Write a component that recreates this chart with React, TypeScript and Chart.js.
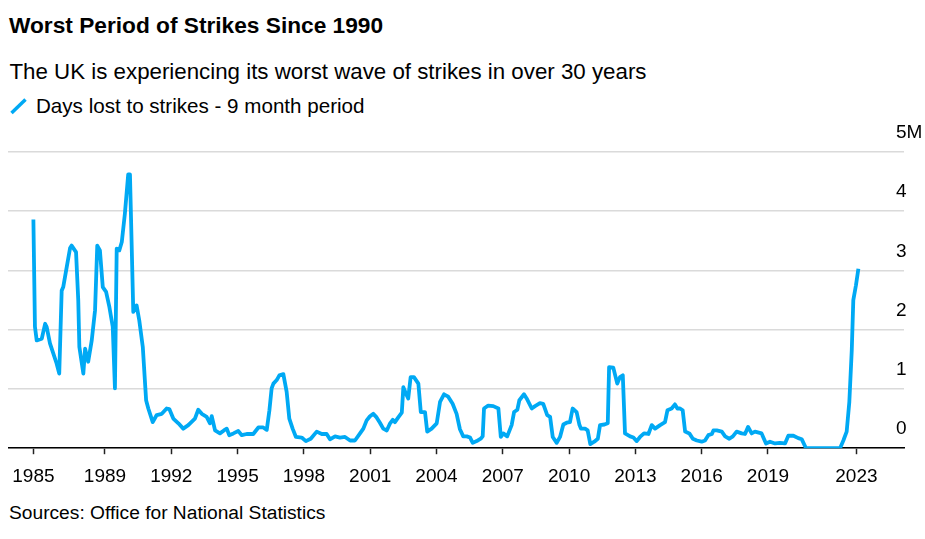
import React, { useEffect, useRef } from "react";
import { Chart, registerables } from "chart.js";

Chart.register(...registerables);

// Decimal-year positions of readings (9-month rolling total), and values in millions of days
const dates = [
  1985.76, 1985.83, 1985.91, 1986.14, 1986.29, 1986.36, 1986.51, 1986.66, 1986.81, 1986.93,
  1987.04, 1987.11, 1987.27, 1987.42, 1987.49, 1987.69, 1987.79, 1987.84, 1988.02, 1988.10,
  1988.24, 1988.40, 1988.55, 1988.65, 1988.77, 1988.90, 1989.05, 1989.20, 1989.35, 1989.45,
  1989.53, 1989.65, 1989.76, 1989.90, 1990.05, 1990.13, 1990.28, 1990.43, 1990.55, 1990.71,
  1990.86, 1990.96, 1991.16, 1991.34, 1991.57, 1991.79, 1991.91, 1992.09, 1992.32, 1992.54,
  1992.77, 1993.07, 1993.22, 1993.38, 1993.60, 1993.75, 1993.83, 1993.98, 1994.20, 1994.38,
  1994.51, 1994.62, 1994.81, 1995.03, 1995.19, 1995.41, 1995.71, 1995.94, 1996.16, 1996.32,
  1996.44, 1996.54, 1996.62, 1996.77, 1996.89, 1997.07, 1997.22, 1997.34, 1997.49, 1997.64,
  1997.90, 1998.09, 1998.31, 1998.58, 1998.81, 1999.03, 1999.18, 1999.41, 1999.63, 1999.86,
  2000.09, 2000.31, 2000.54, 2000.69, 2000.84, 2000.99, 2001.14, 2001.29, 2001.44, 2001.59,
  2001.75, 2001.90, 2002.02, 2002.12, 2002.27, 2002.43, 2002.50, 2002.62, 2002.72, 2002.83,
  2002.98, 2003.18, 2003.29, 2003.48, 2003.58, 2003.78, 2004.01, 2004.16, 2004.34, 2004.53,
  2004.73, 2004.91, 2005.06, 2005.21, 2005.37, 2005.52, 2005.64, 2005.82, 2006.00, 2006.09,
  2006.15, 2006.34, 2006.57, 2006.80, 2006.91, 2007.02, 2007.20, 2007.40, 2007.51, 2007.66,
  2007.75, 2007.96, 2008.08, 2008.31, 2008.46, 2008.68, 2008.83, 2009.01, 2009.14, 2009.26,
  2009.44, 2009.59, 2009.74, 2009.89, 2010.04, 2010.16, 2010.34, 2010.47, 2010.54, 2010.72,
  2010.84, 2010.96, 2011.14, 2011.30, 2011.40, 2011.60, 2011.75, 2011.81, 2012.00, 2012.18,
  2012.30, 2012.43, 2012.53, 2012.76, 2012.91, 2013.06, 2013.21, 2013.39, 2013.59, 2013.74,
  2013.89, 2014.12, 2014.34, 2014.45, 2014.64, 2014.79, 2014.90, 2015.02, 2015.14, 2015.25,
  2015.44, 2015.60, 2015.78, 2016.00, 2016.15, 2016.30, 2016.46, 2016.53, 2016.68, 2016.91,
  2017.06, 2017.25, 2017.41, 2017.58, 2017.81, 2017.96, 2018.10, 2018.26, 2018.41, 2018.71,
  2018.91, 2019.09, 2019.32, 2019.54, 2019.77, 2019.92, 2020.15, 2020.37, 2020.53, 2020.72,
  2021.05, 2021.66, 2022.26, 2022.41, 2022.56, 2022.68, 2022.79, 2022.86, 2022.98, 2023.09,
];

const daysLost = [
  3.86, 2.05, 1.82, 1.85, 2.10, 2.05, 1.77, 1.60, 1.43, 1.26,
  2.66, 2.72, 3.06, 3.38, 3.42, 3.31, 2.50, 1.71, 1.26, 1.68,
  1.46, 1.82, 2.33, 3.42, 3.34, 2.72, 2.64, 2.38, 2.05, 1.01,
  3.37, 3.34, 3.48, 3.96, 4.62, 4.62, 2.30, 2.41, 2.16, 1.71,
  0.81, 0.67, 0.44, 0.56, 0.58, 0.67, 0.66, 0.50, 0.42, 0.33,
  0.39, 0.50, 0.65, 0.58, 0.53, 0.42, 0.54, 0.30, 0.25, 0.30,
  0.33, 0.22, 0.25, 0.29, 0.22, 0.24, 0.24, 0.35, 0.35, 0.31,
  0.64, 1.01, 1.09, 1.15, 1.23, 1.25, 0.95, 0.50, 0.33, 0.19,
  0.18, 0.12, 0.16, 0.28, 0.24, 0.24, 0.15, 0.20, 0.18, 0.19,
  0.13, 0.13, 0.25, 0.33, 0.47, 0.54, 0.58, 0.52, 0.43, 0.33,
  0.30, 0.42, 0.48, 0.44, 0.52, 0.60, 1.03, 0.92, 0.84, 1.20,
  1.20, 1.09, 0.61, 0.61, 0.28, 0.33, 0.42, 0.78, 0.91, 0.87,
  0.75, 0.58, 0.32, 0.20, 0.20, 0.18, 0.09, 0.12, 0.16, 0.20,
  0.67, 0.72, 0.71, 0.67, 0.19, 0.25, 0.20, 0.39, 0.61, 0.65,
  0.81, 0.91, 0.84, 0.67, 0.71, 0.76, 0.75, 0.56, 0.53, 0.19,
  0.09, 0.19, 0.40, 0.43, 0.44, 0.67, 0.61, 0.39, 0.33, 0.33,
  0.30, 0.07, 0.11, 0.16, 0.39, 0.40, 0.42, 1.37, 1.36, 1.09,
  1.20, 1.23, 0.25, 0.20, 0.18, 0.12, 0.19, 0.25, 0.24, 0.39,
  0.33, 0.39, 0.44, 0.64, 0.67, 0.74, 0.67, 0.67, 0.64, 0.28,
  0.25, 0.16, 0.13, 0.11, 0.13, 0.22, 0.24, 0.30, 0.30, 0.28,
  0.20, 0.16, 0.20, 0.28, 0.25, 0.24, 0.36, 0.25, 0.28, 0.25,
  0.08, 0.11, 0.08, 0.09, 0.08, 0.21, 0.21, 0.17, 0.15, 0.00,
  0.00, 0.00, 0.00, 0.13, 0.28, 0.78, 1.65, 2.50, 2.75, 3.03,
];

const xTickValues = [1985.76, 1989, 1992, 1995, 1998, 2001, 2004, 2007, 2010, 2013, 2016, 2019, 2023];
const xTickLabels = ["1985", "1989", "1992", "1995", "1998", "2001", "2004", "2007", "2010", "2013", "2016", "2019", "2023"];
const yTickValues = [0, 1, 2, 3, 4, 5];
const yTickLabels = ["0", "1", "2", "3", "4", "5M"];

const FONT = "'Liberation Sans', Arial, sans-serif";
const BLUE = "#00a9f4";
const AXIS_FONT_SIZE = 19;

export default function App() {
  const ref = useRef<HTMLCanvasElement | null>(null);

  useEffect(() => {
    if (!ref.current) return;
    const ctx = ref.current.getContext("2d")!;
    ctx.font = `${AXIS_FONT_SIZE}px ${FONT}`;
    const widest = Math.max(...yTickLabels.map((l) => ctx.measureText(l).width));
    const chart = new Chart(ref.current, {
      type: "line",
      data: {
        datasets: [
          {
            label: "Days lost to strikes - 9 month period",
            data: dates.map((d, i) => ({ x: d, y: daysLost[i] })),
            borderColor: BLUE,
            borderWidth: 3.8,
            pointRadius: 0,
            tension: 0,
            borderJoinStyle: "round",
            fill: false,
          },
        ],
      },
      options: {
        animation: false,
        responsive: false,
        devicePixelRatio: 1,
        layout: { padding: { top: 32, right: 0, bottom: 0, left: 0 } },
        plugins: {
          legend: { display: false },
          tooltip: { enabled: false },
          title: { display: false },
        },
        scales: {
          x: {
            type: "linear",
            min: 1984.611,
            max: 2025.154,
            afterBuildTicks: (scale: any) => {
              scale.ticks = xTickValues.map((v) => ({ value: v }));
            },
            afterFit: (scale: any) => {
              scale.paddingLeft = 0;
              scale.paddingRight = 0;
            },
            ticks: {
              autoSkip: false,
              maxRotation: 0,
              padding: 11,
              color: "#000",
              font: { family: FONT, size: AXIS_FONT_SIZE },
              callback: (_v: any, i: number) => xTickLabels[i],
            },
            grid: {
              display: true,
              drawOnChartArea: false,
              drawTicks: true,
              tickLength: 6,
              tickColor: "#222",
              tickWidth: 1.5,
            },
            border: { display: true, color: "#000", width: 1.5 },
          },
          y: {
            type: "linear",
            position: "right",
            min: 0,
            max: 5,
            afterBuildTicks: (scale: any) => {
              scale.ticks = yTickValues.map((v) => ({ value: v }));
            },
            afterFit: (scale: any) => {
              scale.width = 21;
              scale.paddingTop = 0;
              scale.paddingBottom = 0;
            },
            ticks: {
              mirror: true,
              crossAlign: "far",
              padding: widest - 8,
              labelOffset: -19,
              color: "#000",
              font: { family: FONT, size: AXIS_FONT_SIZE },
              callback: (_v: any, i: number) => yTickLabels[i],
            },
            grid: {
              color: "#dadada",
              lineWidth: 1.5,
              drawTicks: false,
            },
            border: { display: false },
          },
        },
      },
    });
    return () => chart.destroy();
  }, []);

  return (
    <div style={{ height: 523 }}>
      <div style={{ position: "absolute", left: 0, top: 0, width: 925, height: 539, fontFamily: FONT, color: "#000" }}>
        <div style={{ position: "absolute", left: 9, top: 13.8, fontSize: 22.7, lineHeight: "22.7px", fontWeight: 700, whiteSpace: "nowrap" }}>
          Worst Period of Strikes Since 1990
        </div>
        <div style={{ position: "absolute", left: 9.5, top: 61.1, fontSize: 22.3, lineHeight: "22.3px", whiteSpace: "nowrap" }}>
          The UK is experiencing its worst wave of strikes in over 30 years
        </div>
        <svg style={{ position: "absolute", left: 8, top: 96 }} width={24} height={20}>
          <line x1={3.5} y1={17} x2={17.5} y2={3.5} stroke={BLUE} strokeWidth={3.5} />
        </svg>
        <div style={{ position: "absolute", left: 36, top: 95.6, fontSize: 20.6, lineHeight: "20.6px", whiteSpace: "nowrap" }}>
          Days lost to strikes - 9 month period
        </div>
        <canvas ref={ref} width={917} height={379} style={{ position: "absolute", left: 8, top: 120, width: 917, height: 379 }} />
        <div style={{ position: "absolute", left: 9, top: 502.75, fontSize: 19.2, lineHeight: "19.2px", whiteSpace: "nowrap" }}>
          Sources: Office for National Statistics
        </div>
      </div>
    </div>
  );
}
